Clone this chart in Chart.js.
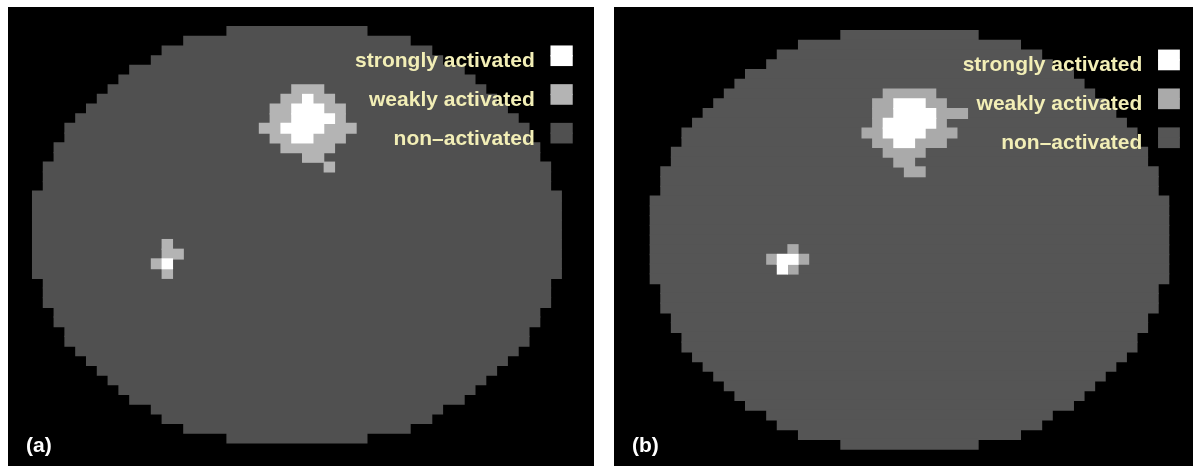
<!DOCTYPE html>
<html>
<head>
<meta charset="utf-8">
<script src="https://cdn.jsdelivr.net/npm/chart.js@4.4.1/dist/chart.umd.min.js"></script>
<style>
  html, body { margin: 0; padding: 0; background: #fff; }
  body { width: 1193px; height: 466px; position: relative; overflow: hidden; }
  .panel { position: absolute; top: 7px; height: 459px; background: #000; }
  #panelA { left: 8px; width: 586px; }
  #panelB { left: 614px; width: 579px; }
</style>
</head>
<body>
<div class="panel" id="panelA"><canvas id="mapA" width="586" height="459"></canvas></div>
<div class="panel" id="panelB"><canvas id="mapB" width="579" height="459"></canvas></div>
<script>
// first voxel column of the brain mask per row (43 rows, mask mirrored over 49 columns)
const maskFirstCol = [18, 14, 12, 11, 9, 8, 7, 6, 5, 4, 3, 3, 2, 2, 1, 1, 1,
    0, 0, 0, 0, 0, 0, 0, 0, 0,
    1, 1, 1, 2, 2, 3, 3, 4, 5, 6, 7, 8, 9, 11, 12, 14, 18];
const maskCols = 49;

// activated voxels, runs of [row, first column, last column]
const weakA = [[6, 24, 26], [7, 23, 27], [8, 22, 28], [9, 22, 28], [10, 21, 29], [11, 22, 28],
    [12, 23, 27], [13, 25, 26], [14, 27, 27],
    [22, 12, 12], [23, 12, 13], [24, 11, 11], [25, 12, 12]];
const strongA = [[7, 25, 25], [8, 24, 26], [9, 24, 27], [10, 23, 26], [11, 24, 25], [24, 12, 12]];

const weakB = [[6, 22, 26], [7, 21, 27], [8, 21, 29], [9, 21, 27], [10, 20, 28], [11, 21, 27],
    [12, 22, 25], [13, 23, 24], [14, 24, 25],
    [22, 13, 13], [23, 11, 14], [24, 13, 13]];
const strongB = [[7, 23, 25], [8, 23, 26], [9, 22, 26], [10, 22, 25], [11, 23, 24], [23, 12, 13], [24, 12, 12]];

// legend: label, top row of its 2x2 key, key columns
const legendLabels = ['strongly activated', 'weakly activated', 'non\u2013activated'];
const legendRows = [2, 6, 10];
const legendCols = [48, 49];
const panelNames = ['(a)', '(b)'];

function runsToBars(runs) {
    return runs.map(([r, c0, c1]) => ({ y: r + 0.5, x: [c0, c1 + 1] }));
}

function keyBars(i) {
    const r = legendRows[i];
    return runsToBars([[r, legendCols[0], legendCols[1]], [r + 1, legendCols[0], legendCols[1]]]);
}

const maskBars = maskFirstCol.map((c, r) => ({ y: r + 0.5, x: [c, maskCols - c] }));

// labels and legend text
const textPlugin = {
    id: 'mapText',
    afterDatasetsDraw(chart, args, opts) {
        const { ctx, chartArea } = chart;
        const x = chart.scales.x, y = chart.scales.y;
        ctx.save();
        ctx.font = 'bold 21px "Liberation Sans", Arial, sans-serif';
        ctx.textBaseline = 'alphabetic';
        ctx.textAlign = 'right';
        ctx.fillStyle = '#f2eeb6';
        legendLabels.forEach((txt, i) => {
            ctx.fillText(txt, x.getPixelForValue(legendCols[0]) - 16, y.getPixelForValue(legendRows[i] + 1) + 11.5);
        });
        ctx.textAlign = 'left';
        ctx.fillStyle = '#fff';
        ctx.fillText(opts.name, chartArea.left + 18, chartArea.bottom - 14);
        ctx.restore();
    }
};

function makeMap(id, view, weak, strong, colors, name) {
    const canvas = document.getElementById(id);
    const rowPx = canvas.height / (view.yMax - view.yMin);
    const common = { grouped: false, borderWidth: 0, barThickness: rowPx + 0.6 };

    return new Chart(canvas, {
        type: 'bar',
        data: {
            datasets: [
                { label: 'strong', data: runsToBars(strong).concat(keyBars(0)), backgroundColor: colors.strong, order: 0, ...common },
                { label: 'weak', data: runsToBars(weak).concat(keyBars(1)), backgroundColor: colors.weak, order: 1, ...common },
                { label: 'non', data: maskBars.concat(keyBars(2)), backgroundColor: colors.mask, order: 2, ...common }
            ]
        },
        options: {
            indexAxis: 'y',
            responsive: false,
            animation: false,
            events: [],
            layout: { padding: 0 },
            scales: {
                x: { type: 'linear', min: view.xMin, max: view.xMax, display: false, offset: false },
                y: { type: 'linear', min: view.yMin, max: view.yMax, reverse: true, display: false, offset: false }
            },
            plugins: {
                legend: { display: false },
                tooltip: { enabled: false },
                mapText: { name: name }
            }
        },
        plugins: [textPlugin]
    });
}

makeMap('mapA', { xMin: -2.25, xMax: 52.0, yMin: -2.04, yMax: 45.4 }, weakA, strongA,
    { mask: '#505050', weak: '#b4b4b4', strong: '#ffffff' }, panelNames[0]);
makeMap('mapB', { xMin: -3.40, xMax: 51.27, yMin: -2.44, yMax: 44.74 }, weakB, strongB,
    { mask: '#555555', weak: '#aaaaaa', strong: '#ffffff' }, panelNames[1]);
</script>
</body>
</html>
